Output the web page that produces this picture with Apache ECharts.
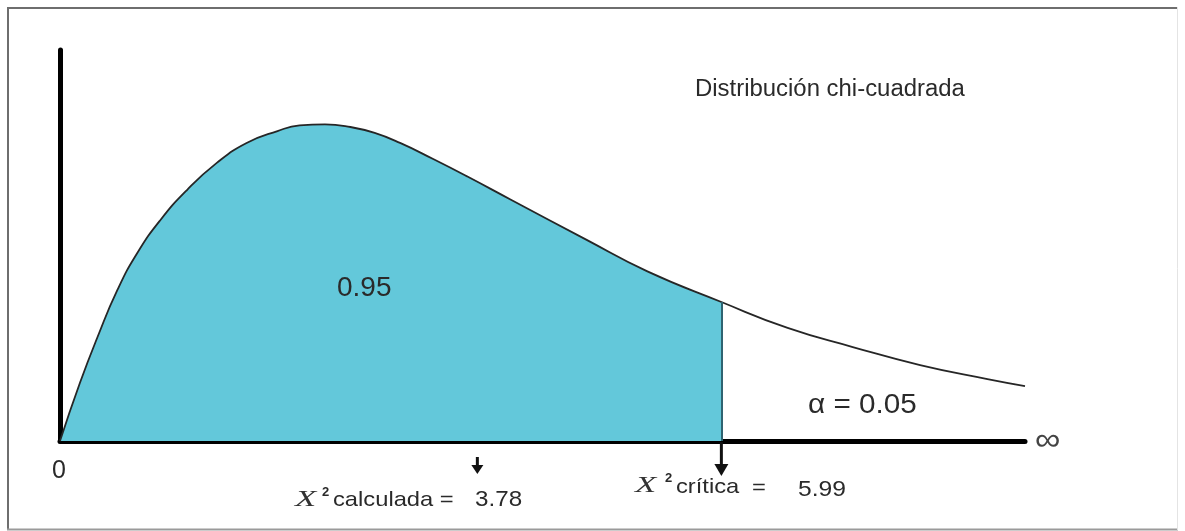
<!DOCTYPE html>
<html>
<head>
<meta charset="utf-8">
<script src="https://cdn.jsdelivr.net/npm/echarts@6/dist/echarts.min.js"></script>
<style>
    html, body { margin: 0; padding: 0; background: #fff; }
    #chart { width: 1185px; height: 531px; }
</style>
</head>
<body>
<div id="chart"></div>
<script>
// curve: chi-square value -> density
const chiX = [0, 0.18, 0.34, 0.52, 0.7, 0.91, 1.15, 1.42, 1.69, 1.97, 2.17, 2.4, 2.63, 2.85, 3.08, 3.38, 3.69, 4.08, 4.77, 5.32, 5.99, 6.59, 7.18, 7.79, 8.4, 8.74];
const density = [0, 0.0331, 0.0594, 0.0863, 0.1074, 0.1263, 0.1434, 0.1589, 0.1703, 0.1771, 0.1803, 0.1809, 0.1794, 0.176, 0.1703, 0.1611, 0.1511, 0.138, 0.1149, 0.0969, 0.0794, 0.0646, 0.0537, 0.0434, 0.0354, 0.0314];

const criticalValue = 5.99;
const calculatedValue = 3.78;
const alphaText = 'α = 0.05';
const areaText = '0.95';
const titleText = 'Distribución chi-cuadrada';

const xMax = 8.74;
const yMax = 0.2234;

const fillColor = '#63c8da';
const textColor = '#2a2a2a';

const chart = echarts.init(document.getElementById('chart'));
const fillStop = criticalValue / xMax;
const critDensity = density[chiX.indexOf(criticalValue)];

chart.setOption({
    animation: false,
    backgroundColor: '#fff',
    grid: { left: 60, right: 160, top: 50, bottom: 90 },
    xAxis: {
        type: 'value',
        min: 0,
        max: xMax,
        axisLine: { lineStyle: { color: '#000', width: 5 } },
        axisTick: { show: false },
        axisLabel: { show: false },
        splitLine: { show: false }
    },
    yAxis: {
        type: 'value',
        min: 0,
        max: yMax,
        axisLine: { show: true, lineStyle: { color: '#000', width: 5 } },
        axisTick: { show: false },
        axisLabel: { show: false },
        splitLine: { show: false }
    },
    series: [
        {
            type: 'line',
            data: chiX.map((x, i) => [x, density[i]]),
            smooth: 0.5,
            symbol: 'none',
            z: 3,
            lineStyle: { color: '#262626', width: 1.8 },
            areaStyle: {
                opacity: 1,
                color: new echarts.graphic.LinearGradient(0, 0, 1, 0, [
                    { offset: 0, color: fillColor },
                    { offset: fillStop, color: fillColor },
                    { offset: fillStop, color: 'rgba(255,255,255,0)' },
                    { offset: 1, color: 'rgba(255,255,255,0)' }
                ])
            },
            markLine: {
                silent: true,
                symbol: 'none',
                label: { show: false },
                lineStyle: { color: '#2f6471', width: 2, type: 'solid' },
                data: [[{ coord: [criticalValue, 0] }, { coord: [criticalValue, critDensity] }]]
            }
        }
    ]
});

const calcPx = chart.convertToPixel({ gridIndex: 0 }, [calculatedValue, 0]);
const critPx = chart.convertToPixel({ gridIndex: 0 }, [criticalValue, 0]);

const txt = (x, y, text, size, extra) => Object.assign({
    type: 'text',
    x: x,
    y: y,
    z: 10,
    style: Object.assign({
        text: text,
        fill: textColor,
        fontSize: size,
        fontFamily: '"Liberation Sans", Arial, sans-serif',
        align: 'left',
        verticalAlign: 'middle'
    }, (extra && extra.style) || {})
}, extra ? { scaleX: extra.scaleX || 1 } : {});

const arrow = (cx, top, headTop, bottom, half) => [
    { type: 'line', z: 10, shape: { x1: cx, y1: top, x2: cx, y2: headTop + 1 }, style: { stroke: '#111', lineWidth: 3 } },
    { type: 'polygon', z: 10, shape: { points: [[cx - half, headTop], [cx + half, headTop], [cx, bottom]] }, style: { fill: '#111' } }
];

const serif = { fontFamily: '"Liberation Serif", "Times New Roman", serif', fontStyle: 'italic', fill: '#333' };

chart.setOption({
    graphic: [
        // frame
        { type: 'line', shape: { x1: 7, y1: 8, x2: 1178, y2: 8 }, style: { stroke: '#6e6e6e', lineWidth: 2 } },
        { type: 'line', shape: { x1: 8, y1: 7, x2: 8, y2: 530 }, style: { stroke: '#6e6e6e', lineWidth: 2 } },
        { type: 'line', shape: { x1: 7, y1: 529.5, x2: 1178, y2: 529.5 }, style: { stroke: '#9a9a9a', lineWidth: 2 } },
        { type: 'line', shape: { x1: 1177.5, y1: 7, x2: 1177.5, y2: 530 }, style: { stroke: '#e4e4e4', lineWidth: 1 } },

        txt(695, 90, titleText, 23, { scaleX: 1.04 }),
        txt(337, 288, areaText, 28),
        txt(808, 405, alphaText, 28, { scaleX: 1.06 }),
        txt(1035, 441, '∞', 32, { scaleX: 1.12, style: { fill: '#444' } }),
        txt(52, 471, '0', 25),

        // calculated value label
        txt(295, 500, 'X', 24, { scaleX: 1.45, style: serif }),
        txt(322, 492, '2', 13, { style: { fontWeight: 'bold' } }),
        txt(333, 500, 'calculada =', 21, { scaleX: 1.13 }),
        txt(475, 500, String(calculatedValue), 22, { scaleX: 1.1 }),

        // critical value label
        txt(635, 486, 'X', 24, { scaleX: 1.45, style: serif }),
        txt(665, 478, '2', 13, { style: { fontWeight: 'bold' } }),
        txt(676, 487, 'crítica', 21, { scaleX: 1.13 }),
        txt(752, 488, '=', 21, { scaleX: 1.13 }),
        txt(798, 490, String(criticalValue), 22, { scaleX: 1.12 }),

        ...arrow(calcPx[0], 457, 465, 474, 6),
        ...arrow(critPx[0], 442, 464, 476, 7)
    ]
});
</script>
</body>
</html>
